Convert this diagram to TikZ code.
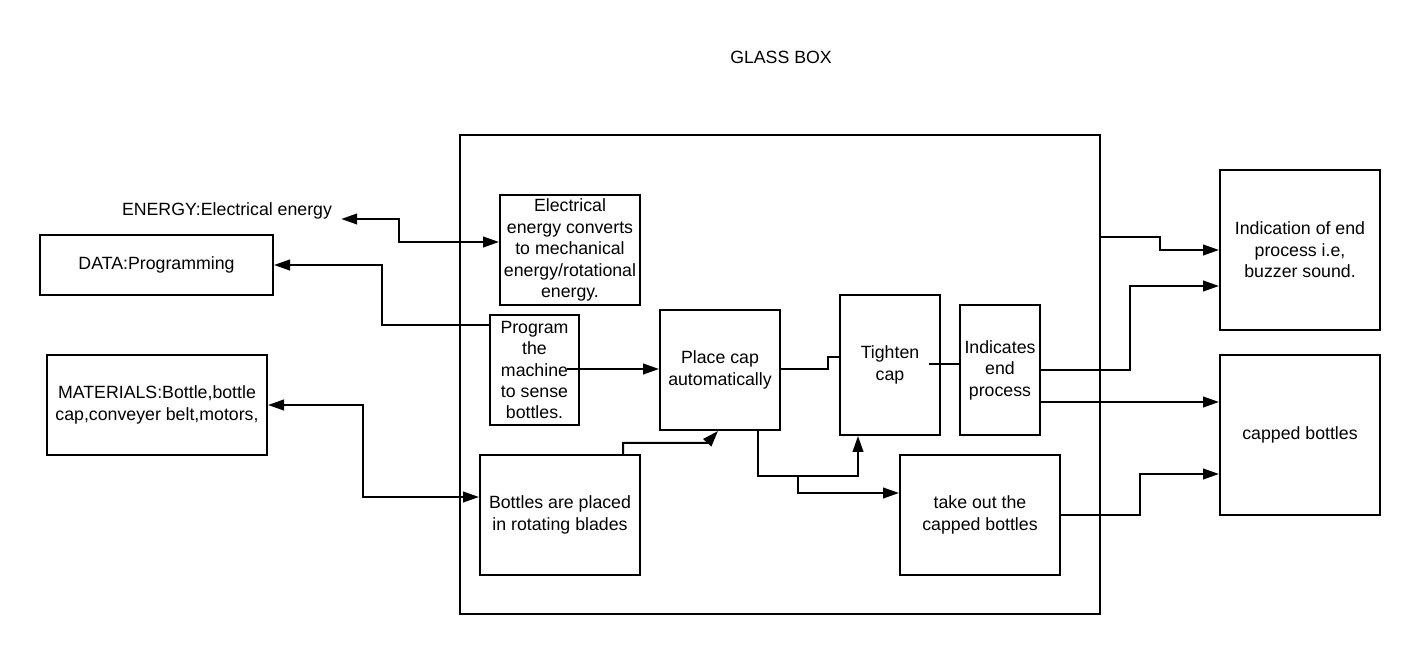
\documentclass[tikz,border=0pt]{standalone}
\usepackage{fontspec}
\setmainfont{Liberation Sans}
\usetikzlibrary{arrows.meta}
\tikzset{
  every node/.style={font=\fontsize{13.3}{16.1}\selectfont, inner sep=0pt, align=center},
  box/.style 2 args={draw, line width=1.5pt, minimum width=#1*0.75pt, minimum height=#2*0.75pt},
  conn/.style={line width=1.5pt},
  arr/.style={conn, -{Triangle[length=12pt,width=8pt]}},
  darr/.style={conn, {Triangle[length=12pt,width=8pt]}-{Triangle[length=12pt,width=8pt]}},
}
\begin{document}
\begin{tikzpicture}[x=0.75pt, y=-0.75pt]
\useasboundingbox (0,0) rectangle (1420,655);
% title and frame
\node (title) at (781,57) {GLASS BOX};
\node[box={640}{479}] (glass) at (780,374.5) {};
% left side
\node (energy) at (227,211) {ENERGY:Electrical energy};
\node[box={233}{60}] (data) at (156.5,265) {DATA:Programming};
\node[box={220}{100}] (mat) at (157,405) {MATERIALS:Bottle,bottle\\cap,conveyer belt,motors,};
% inner boxes
\node[box={140}{110}] (elec) at (570,250) {Electrical\\energy converts\\to mechanical\\energy/rotational\\energy.};
\node[box={89}{110}] (prog) at (534.5,370) {Program\\the\\machine\\to sense\\bottles.};
\node[box={120}{120}] (place) at (720,370) {Place cap\\automatically};
\node[box={100}{140}] (tight) at (890,365) {Tighten\\cap};
\node[box={80}{130}] (ind) at (1000,370) {Indicates\\end\\process};
\node[box={160}{120}] (bott) at (560,515) {Bottles are placed\\in rotating blades};
\node[box={160}{120}] (take) at (980,515) {take out the\\capped bottles};
% right side
\node[box={160}{160}] (endp) at (1300,250) {Indication of end\\process i.e,\\buzzer sound.};
\node[box={160}{160}] (capped) at (1300,435) {capped bottles};
\coordinate (j) at (798,476);
% connectors
\draw[darr] ([shift={(9,8)}]energy.east) -| (399,230) |- ([shift={(0,-8)}]elec.west);
\draw[arr] ([shift={(0,-45)}]prog.west) -| (382,300) |- (data.east);
\draw[darr] (mat.east) -| (363,450) |- ([shift={(0,-18)}]bott.west);
\draw[arr] ([shift={(-13,-1)}]prog.east) -- ([shift={(0,-1)}]place.west);
\draw[arr] ([shift={(63,0)}]bott.north) |- (707,443) -- ([shift={(-2,0)}]place.south);
\draw[conn] ([shift={(0,-1)}]place.east) -| (828,362) |- ([shift={(0,-8)}]tight.west);
\draw[arr] ([shift={(38,0)}]place.south) |- (j) -| ([shift={(-32,0)}]tight.south);
\draw[arr] (j) |- ([shift={(0,-22)}]take.west);
\draw[conn] ([shift={(-12,-1)}]tight.east) -- ([shift={(0,-6)}]ind.west);
\draw[arr] ([shift={(0,-137.5)}]glass.east) -| (1160,245) |- (endp.west);
\draw[arr] (ind.east) -| (1130,300) |- ([shift={(0,36)}]endp.west);
\draw[arr] ([shift={(0,32)}]ind.east) -- ([shift={(0,-33)}]capped.west);
\draw[arr] (take.east) -| (1140,490) |- ([shift={(0,39)}]capped.west);
\end{tikzpicture}
\end{document}
